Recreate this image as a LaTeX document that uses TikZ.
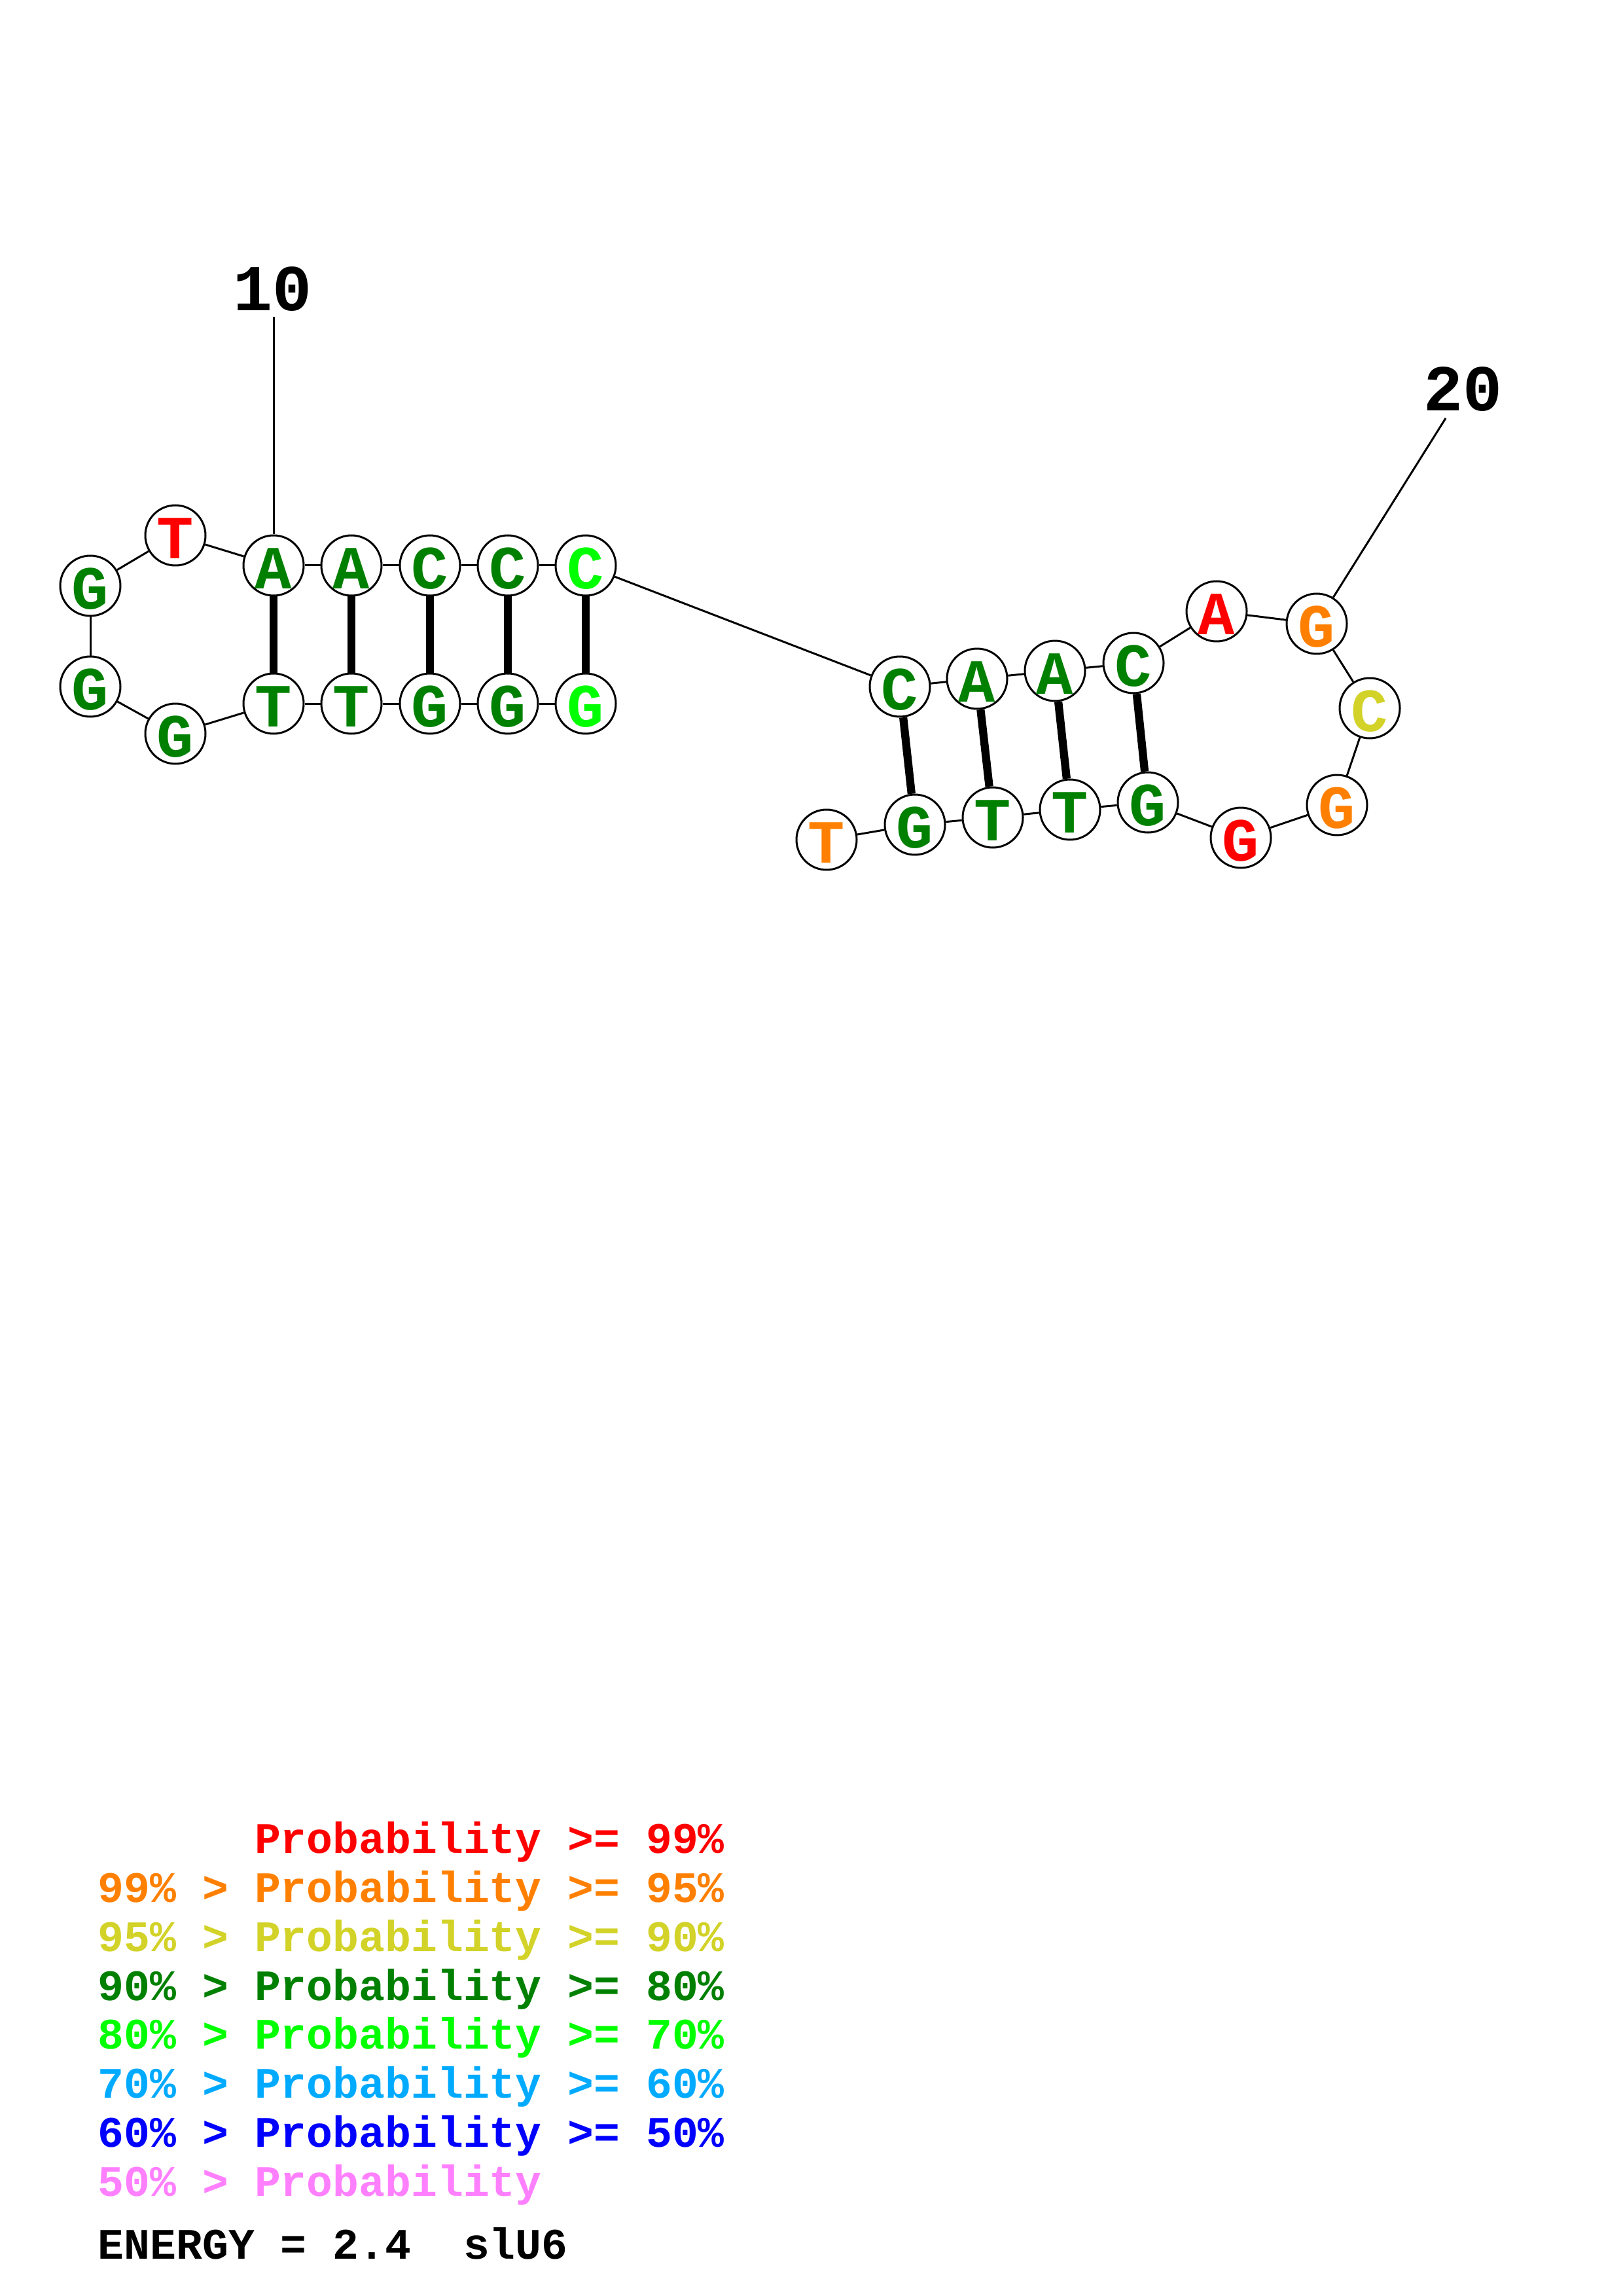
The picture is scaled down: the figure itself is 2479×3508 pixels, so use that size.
\documentclass[tikz,border=0pt]{standalone}
\usepackage{fontspec}
\setmonofont{Liberation Mono}
\definecolor{pr99}{RGB}{255,0,0}
\definecolor{pr95}{RGB}{255,128,0}
\definecolor{pr90}{RGB}{210,210,40}
\definecolor{pr80}{RGB}{0,128,0}
\definecolor{pr70}{RGB}{0,255,0}
\definecolor{pr60}{RGB}{0,170,255}
\definecolor{pr50}{RGB}{0,0,255}
\definecolor{pr00}{RGB}{255,128,255}
\newcommand\spc{\hphantom{0}}
\newcommand\nt[5]{%
  \node[nuc] (n#1) at (#2,#3) {};
  \node[nlet,text=#4] (l#1) at ([yshift=-1.1pt]n#1.center) {#5};}
\begin{document}
\begin{tikzpicture}[x=0.24pt,y=-0.24pt,
  nuc/.style={circle,draw,fill=white,line width=0.72pt,minimum size=22.08pt,inner sep=0pt},
  nlet/.style={font=\fontsize{22.5pt}{22.5pt}\selectfont\ttfamily\bfseries,inner sep=0pt},
  labf/.style={font=\fontsize{24pt}{24pt}\selectfont\ttfamily\bfseries,inner sep=0pt},
  leg/.style={font=\fontsize{15.95pt}{15.95pt}\selectfont\ttfamily\bfseries,inner sep=0pt,anchor=base west},
  bb/.style={line width=0.72pt},
  pairln/.style={line width=2.95pt}]
\useasboundingbox[fill=white] (0,0) rectangle (2479,3508);
% nucleotides
\nt{1}{895}{1075}{pr70}{G}
\nt{2}{776}{1075}{pr80}{G}
\nt{3}{657}{1075}{pr80}{G}
\nt{4}{537}{1075}{pr80}{T}
\nt{5}{418}{1075}{pr80}{T}
\nt{6}{268}{1121}{pr80}{G}
\nt{7}{138}{1049}{pr80}{G}
\nt{8}{138}{895}{pr80}{G}
\nt{9}{268}{818}{pr99}{T}
\nt{10}{418}{864}{pr80}{A}
\nt{11}{537}{864}{pr80}{A}
\nt{12}{657}{864}{pr80}{C}
\nt{13}{776}{864}{pr80}{C}
\nt{14}{895}{864}{pr70}{C}
\nt{15}{1375}{1049}{pr80}{C}
\nt{16}{1493}{1037}{pr80}{A}
\nt{17}{1612}{1025}{pr80}{A}
\nt{18}{1732}{1013}{pr80}{C}
\nt{19}{1859}{934}{pr99}{A}
\nt{20}{2012}{953}{pr95}{G}
\nt{21}{2093}{1082}{pr90}{C}
\nt{22}{2043}{1230}{pr95}{G}
\nt{23}{1896}{1280}{pr99}{G}
\nt{24}{1754}{1226}{pr80}{G}
\nt{25}{1635}{1237}{pr80}{T}
\nt{26}{1517}{1249}{pr80}{T}
\nt{27}{1398}{1260}{pr80}{G}
\nt{28}{1263}{1283}{pr95}{T}
% backbone
\foreach \i in {1,...,27}{\pgfmathtruncatemacro\j{\i+1}\draw[bb] (n\i) -- (n\j);}
% base pairs
\foreach \a/\b in {1/14,2/13,3/12,4/11,5/10,15/27,16/26,17/25,18/24}{\draw[pairln] (n\a) -- (n\b);}
% position labels
\node[labf] (lab10) at (416.5,441.5) {10};
\coordinate (c10) at (418,484);
\draw[bb] (c10) -- (n10);
\node[labf] (lab20) at (2235,594.5) {20};
\coordinate (c20) at (2209,639);
\draw[bb] (c20) -- (n20);
% legend
\node[leg,text=pr99] (g1) at (149,2831.8) {\spc\spc\spc\spc\spc\spc Probability\spc>=\spc 99\%};
\node[leg,text=pr95] (g2) at (149,2906.6) {99\%\spc>\spc Probability\spc>=\spc 95\%};
\node[leg,text=pr90] (g3) at (149,2981.3) {95\%\spc>\spc Probability\spc>=\spc 90\%};
\node[leg,text=pr80] (g4) at (149,3056.1) {90\%\spc>\spc Probability\spc>=\spc 80\%};
\node[leg,text=pr70] (g5) at (149,3130.9) {80\%\spc>\spc Probability\spc>=\spc 70\%};
\node[leg,text=pr60] (g6) at (149,3205.7) {70\%\spc>\spc Probability\spc>=\spc 60\%};
\node[leg,text=pr50] (g7) at (149,3280.4) {60\%\spc>\spc Probability\spc>=\spc 50\%};
\node[leg,text=pr00] (g8) at (149,3355.2) {50\%\spc>\spc Probability};
\node[leg,text=black] (en) at (149,3451.7) {ENERGY\spc=\spc 2.4\spc\spc slU6};
\end{tikzpicture}
\end{document}
